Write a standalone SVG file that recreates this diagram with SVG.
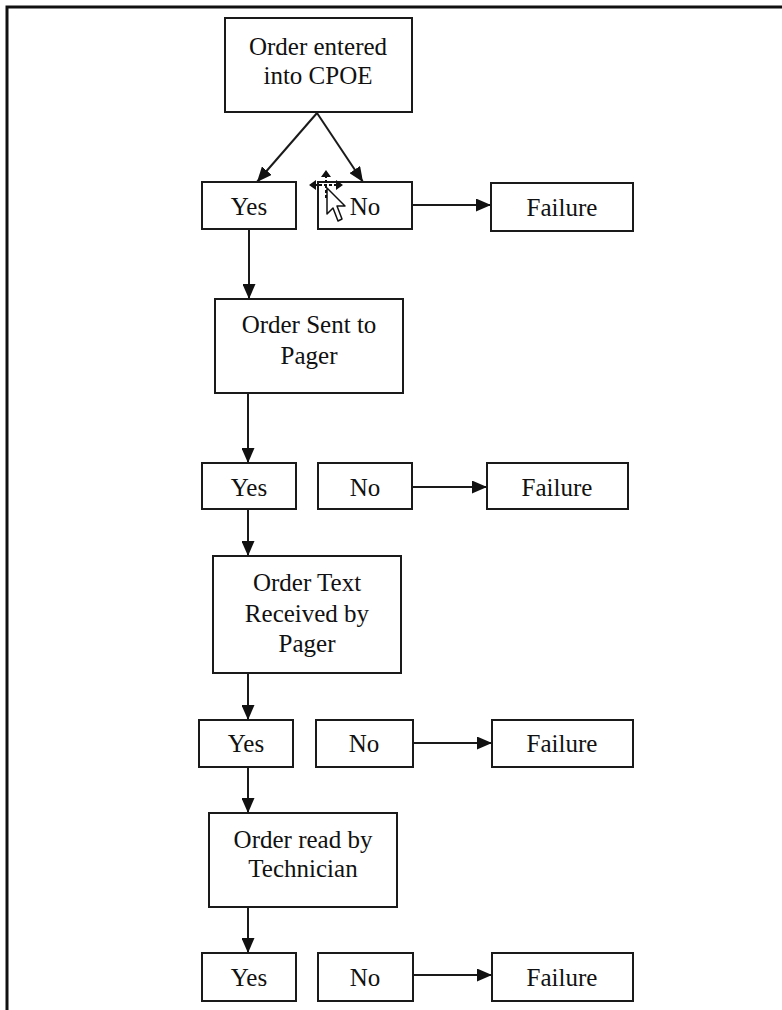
<svg xmlns="http://www.w3.org/2000/svg" width="782" height="1010" viewBox="0 0 782 1010">
<style>
.box{fill:#fff;stroke:#1a1a1a;stroke-width:2}
.t{font-family:"Liberation Serif","Times New Roman",serif;font-size:25px;fill:#111;text-anchor:middle}
.c{stroke:#1a1a1a;stroke-width:2;fill:none;marker-end:url(#ah)}
.frame{stroke:#111;stroke-width:3;fill:none}
</style>
<defs>
<marker id="ah" viewBox="0 0 15 13" refX="15" refY="6.5" markerWidth="15" markerHeight="13" markerUnits="userSpaceOnUse" orient="auto">
<path d="M0,0 L15,6.5 L0,13 Z" fill="#111"/>
</marker>
</defs>
<rect width="782" height="1010" fill="#fff"/>
<path class="frame" d="M7,1010 V7 H782"/>

<g id="connectors">
<line class="c" x1="317" y1="113" x2="257" y2="182"/>
<line class="c" x1="317" y1="113" x2="363" y2="182"/>
<line class="c" x1="412" y1="205" x2="491" y2="205"/>
<line class="c" x1="249" y1="229" x2="249" y2="299"/>
<line class="c" x1="248" y1="393" x2="248" y2="463"/>
<line class="c" x1="412" y1="487" x2="487" y2="487"/>
<line class="c" x1="248" y1="509" x2="248" y2="556"/>
<line class="c" x1="248" y1="673" x2="248" y2="720"/>
<line class="c" x1="413" y1="743" x2="492" y2="743"/>
<line class="c" x1="248" y1="767" x2="248" y2="813"/>
<line class="c" x1="248" y1="907" x2="248" y2="953"/>
<line class="c" x1="413" y1="975" x2="492" y2="975"/>
</g>

<g id="n-cpoe"><rect class="box" x="225" y="18" width="187" height="94"/>
<text class="t" x="318" y="55">Order entered</text><text class="t" x="318" y="84">into CPOE</text></g>
<g id="n-yes1"><rect class="box" x="202" y="182" width="94" height="47"/><text class="t" x="249" y="215">Yes</text></g>
<g id="n-no1"><rect class="box" x="318" y="182" width="94" height="47"/><text class="t" x="365" y="215">No</text></g>
<g id="n-fail1"><rect class="box" x="491" y="183" width="142" height="48"/><text class="t" x="562" y="216">Failure</text></g>

<g id="n-sent"><rect class="box" x="215" y="299" width="188" height="94"/>
<text class="t" x="309" y="333">Order Sent to</text><text class="t" x="309" y="364">Pager</text></g>
<g id="n-yes2"><rect class="box" x="202" y="463" width="94" height="46"/><text class="t" x="249" y="496">Yes</text></g>
<g id="n-no2"><rect class="box" x="318" y="463" width="94" height="46"/><text class="t" x="365" y="496">No</text></g>
<g id="n-fail2"><rect class="box" x="487" y="463" width="141" height="46"/><text class="t" x="557" y="496">Failure</text></g>

<g id="n-recv"><rect class="box" x="213" y="556" width="188" height="117"/>
<text class="t" x="307" y="591">Order Text</text><text class="t" x="307" y="622">Received by</text><text class="t" x="307" y="652">Pager</text></g>
<g id="n-yes3"><rect class="box" x="199" y="720" width="94" height="47"/><text class="t" x="246" y="752">Yes</text></g>
<g id="n-no3"><rect class="box" x="316" y="720" width="97" height="47"/><text class="t" x="364" y="752">No</text></g>
<g id="n-fail3"><rect class="box" x="492" y="720" width="141" height="47"/><text class="t" x="562" y="752">Failure</text></g>

<g id="n-read"><rect class="box" x="209" y="813" width="188" height="94"/>
<text class="t" x="303" y="848">Order read by</text><text class="t" x="303" y="877">Technician</text></g>
<g id="n-yes4"><rect class="box" x="202" y="953" width="94" height="48"/><text class="t" x="249" y="986">Yes</text></g>
<g id="n-no4"><rect class="box" x="318" y="953" width="95" height="48"/><text class="t" x="365" y="986">No</text></g>
<g id="n-fail4"><rect class="box" x="492" y="953" width="141" height="48"/><text class="t" x="562" y="986">Failure</text></g>

<g id="cursor">
<path d="M314,185 H338 M326,175 V199" stroke="#111" stroke-width="2" stroke-dasharray="3,2" fill="none"/>
<path d="M309,185 L316,180 L316,190 Z M343,185 L336,180 L336,190 Z M326,170 L321,177 L331,177 Z" fill="#111"/>
<path d="M327,188 L327,214 L333,208 L338,221 L342,219 L337,206 L345,206 Z" fill="#fff" stroke="#111" stroke-width="1.5" stroke-linejoin="round"/>
</g>
</svg>
